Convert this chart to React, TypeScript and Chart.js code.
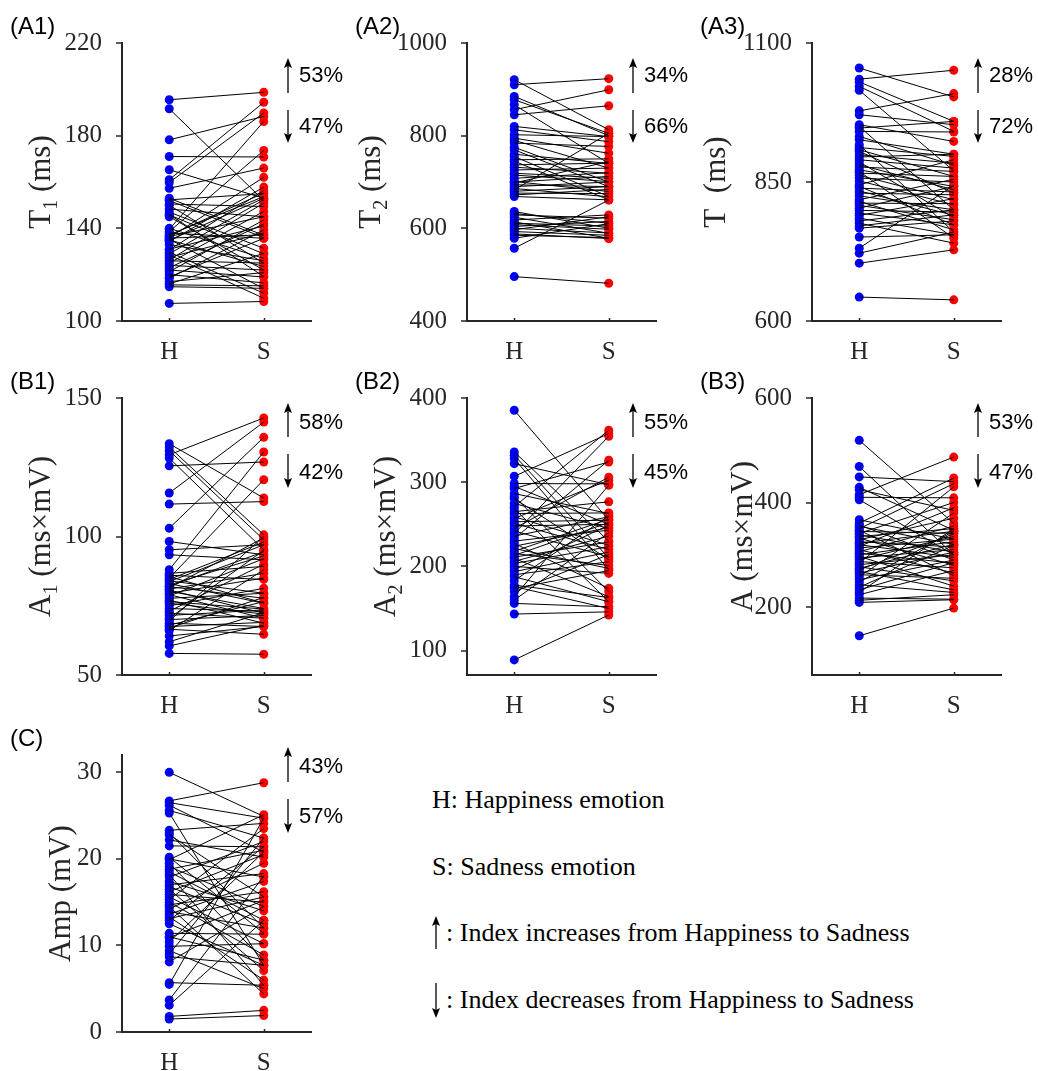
import React, { useEffect, useRef } from 'react';
import { Chart, registerables } from 'chart.js';

Chart.register(...registerables);

// ---------------- data ----------------
const categories = ['H', 'S'];

const t1H = [195.5, 191.6, 178.2, 171, 165.3, 161, 159.8, 157.3, 153, 152.3, 150, 148.3, 145.8, 145, 139.6, 138.6, 137.2, 136, 135.3, 134.3, 130.7, 129.7, 128.5, 126.4, 125, 123, 121.3, 118.4, 117, 115.6, 114.8, 107.6, 152, 150.5, 147, 146, 140, 138, 137, 136.5, 135.8, 135, 134.8, 133, 131, 129, 127.5, 126, 124, 122, 120, 119, 116];
const t1S = [198.7, 152, 188.3, 170.8, 153, 194.4, 189.8, 166, 137, 155, 125, 145, 129, 122, 186.1, 173.6, 153.7, 162, 114, 157.8, 156.3, 112, 109.8, 150.9, 147.3, 141.9, 143.6, 139.3, 120.9, 115.2, 114.1, 108.4, 136, 149.4, 131.4, 119.2, 127, 135.7, 155.2, 145, 137.2, 123.5, 153, 126, 141, 152.3, 138, 125, 122, 119, 116.5, 135.7, 129.2];

const t2H = [920.8, 910, 884.8, 877.6, 866.7, 856, 845, 820, 812.7, 802, 794.7, 790, 784, 775, 769.5, 760, 755, 748, 745, 737, 732, 726, 719, 715, 708, 701, 698, 694, 690, 686, 683, 680, 676, 672, 668.7, 636.3, 632, 629, 624, 618, 614, 611, 608, 604, 600, 597, 593, 585, 578.6, 588, 557, 495.8, 700];
const t2S = [812.7, 923, 800, 805, 740, 899, 864.6, 798, 787, 798, 762, 730, 776.7, 700, 690, 740, 668.7, 750, 661.5, 740.7, 719, 730, 708, 701, 720, 679.5, 744, 690, 700, 668, 805, 690, 675, 684, 661.5, 600.2, 611, 621.8, 589.4, 629, 578.6, 605, 598, 615, 590, 625, 585, 580, 610, 578, 661, 481.4, 712];

const tH = [1055, 1035, 1030, 1022, 1015, 978, 971, 953, 950, 947, 941, 932, 926, 917, 912, 908, 905, 899, 895, 890, 886, 881, 877, 872, 869, 866, 862, 857, 852, 845, 842, 839, 834, 830, 825, 818, 815, 812, 808, 803, 799, 794, 790, 785, 780, 776, 771, 767, 751, 731, 722, 704, 643];
const tS = [1003, 1051, 959, 941, 870, 1009, 953, 923, 800, 959, 940, 880, 900, 760, 896, 860, 830, 884, 900, 875, 786, 836, 869, 842, 749, 860, 818, 850, 809, 890, 773, 832, 790, 827, 800, 855, 764, 811, 782, 842, 796, 773, 820, 755, 800, 740, 791, 780, 755, 844, 760, 728, 638];

const a1H = [133.5, 132.3, 131, 129.5, 128.3, 125.5, 115.7, 111.7, 103, 98.2, 95.2, 93.4, 88, 86.7, 85, 84, 83.7, 83, 82.5, 81.9, 81.5, 81, 80.7, 80.2, 79.5, 79, 78.5, 77.7, 77, 75.9, 75, 74, 73, 72.3, 71.5, 70.5, 70, 69.5, 68.7, 68, 67.5, 67, 66.5, 66, 64.1, 62, 60.5, 57.8, 86, 85.5, 84.5, 82, 76.5];
const a1S = [113.9, 100.6, 98.8, 142.8, 95.2, 126.9, 141.3, 112.6, 135.8, 93.4, 97, 91.6, 130.5, 89.2, 120.5, 79.5, 97, 75.9, 93, 77.7, 99.5, 86.7, 72.3, 74, 85, 70.5, 92, 79.5, 68.7, 72, 81.3, 73, 90, 70.5, 73.5, 95, 71.5, 100, 67.5, 76.5, 69, 78, 64.7, 88, 67.5, 72.5, 68, 57.5, 84.5, 76, 98, 94.5, 73.8];

const a2H = [385.4, 336, 332, 328, 322, 307, 298.4, 295, 292.5, 286.5, 283, 280.6, 274.7, 271, 268.8, 265, 262.8, 259, 256.9, 253, 251, 248, 245, 242, 239, 236, 233, 230, 227.3, 224, 221.3, 218, 215.4, 213, 211, 209.5, 206, 203.5, 200, 196, 193.7, 190, 187.7, 183, 177.8, 173.9, 170, 164, 160, 156, 143.4, 88.9, 176];
const a2S = [255, 230, 210, 196, 297, 357.7, 298, 250, 324, 262.8, 170, 208, 245, 361.7, 158, 276.7, 263.5, 225, 302.4, 254.9, 220, 250, 306, 211.4, 354.5, 258.9, 326, 243, 173.9, 246, 197.6, 256, 201, 252, 229, 164, 236, 223.3, 191.7, 249, 217, 205.5, 158, 260, 163, 195, 214, 296.4, 240, 152, 146, 142.3, 150];

const aH = [519, 469, 449, 429, 424.5, 415, 410, 405.4, 367, 360.7, 357, 354.4, 350, 347, 344.8, 341, 338.4, 335, 332, 328.8, 325, 322, 319.3, 316, 313, 309.7, 306, 303, 300, 297, 294, 290.6, 287, 284, 281, 277, 274, 271.4, 268, 265, 261.9, 258, 252.3, 248, 242.7, 238, 233, 228, 223.6, 217.2, 213, 208.9, 145];
const aS = [360, 300, 440, 347, 385, 487, 409, 300, 330, 446.9, 290, 320, 436, 260, 341, 400, 305, 350, 280, 370, 315, 345, 295, 390, 330, 265, 355, 284, 325, 240, 310, 335, 275, 430, 300, 250, 320, 340, 233, 305, 255, 380, 290, 345, 228, 318, 285, 350, 270, 215, 223.6, 214, 198];

const ampH = [30, 26.7, 26.5, 26.2, 25.6, 25.3, 23.3, 23, 22.8, 22.2, 21.5, 20.2, 20, 19.9, 19.5, 19.1, 18.8, 18.5, 18.2, 17.9, 17.4, 17, 16.8, 16.5, 16.2, 15.9, 15.6, 15.3, 15, 14.7, 14.5, 14.2, 13.9, 13.6, 13.3, 13.1, 12.9, 12.5, 11.4, 10.9, 10.4, 9.9, 9.4, 9, 8.7, 8.1, 5.7, 5.5, 3.7, 3.1, 1.8, 1.5, 11];
const ampS = [24.9, 28.8, 24.7, 20.8, 22.4, 7.7, 24.1, 12, 15.6, 20.2, 21.4, 11.4, 17.9, 25.1, 8.3, 14.5, 21, 12.9, 5.4, 22, 14, 18.3, 12.5, 7.1, 20.5, 15, 10.2, 23.5, 8.9, 16.2, 4.4, 19.5, 12, 17.4, 6, 15.6, 21.4, 7.7, 11.3, 15.2, 20.8, 10.2, 5, 22.4, 7.7, 14.5, 5.4, 24.7, 18, 12.9, 2.5, 1.9, 8.3];

const t1Ticks = [100, 140, 180, 220];
const t2Ticks = [400, 600, 800, 1000];
const tTicks = [600, 850, 1100];
const a1Ticks = [50, 100, 150];
const a2Ticks = [100, 200, 300, 400];
const aTicks = [200, 400, 600];
const ampTicks = [0, 10, 20, 30];

const upPct = ['53%', '34%', '28%', '58%', '55%', '53%', '43%'];
const downPct = ['47%', '66%', '72%', '42%', '45%', '47%', '57%'];

// ---------------- styling ----------------
const AX = '#262626';
const SERIF = '"Liberation Serif", "Times New Roman", serif';
const SANS = '"Liberation Sans", Arial, sans-serif';
const COL_LEFT = [122, 467, 812];
const ROW_TOP = [43, 398, 755];
const ROW_H = [278, 277, 277];
const PAD_TOP = 43;
const AXIS_W = 122;
const PLOT_W = 189;
const CANVAS_W = 345;
const XAXIS_H = 44;
const ROW_ANN = [
  { up: [15, 50], upT: 33, dn: [67, 100], dnT: 84 },
  { up: [5, 39], upT: 25, dn: [56, 90], dnT: 75 },
  { up: [-8, 27], upT: 12, dn: [44, 78], dnT: 62 },
];

type Part = [string, boolean];
interface PanelCfg {
  label: string; row: number; col: number;
  h: number[]; s: number[]; min: number; max: number; ticks: number[];
  title: Part[]; titleOff: number; up: string; down: string;
}

const panels: PanelCfg[] = [
  { label: '(A1)', row: 0, col: 0, h: t1H, s: t1S, min: 100, max: 220, ticks: t1Ticks, title: [['T', false], ['1', true], [' (ms)', false]], titleOff: -72, up: upPct[0], down: downPct[0] },
  { label: '(A2)', row: 0, col: 1, h: t2H, s: t2S, min: 400, max: 1000, ticks: t2Ticks, title: [['T', false], ['2', true], [' (ms)', false]], titleOff: -87, up: upPct[1], down: downPct[1] },
  { label: '(A3)', row: 0, col: 2, h: tH, s: tS, min: 600, max: 1100, ticks: tTicks, title: [['T  (ms)', false]], titleOff: -87, up: upPct[2], down: downPct[2] },
  { label: '(B1)', row: 1, col: 0, h: a1H, s: a1S, min: 50, max: 150, ticks: a1Ticks, title: [['A', false], ['1', true], [' (ms\u00d7mV)', false]], titleOff: -72, up: upPct[3], down: downPct[3] },
  { label: '(B2)', row: 1, col: 1, h: a2H, s: a2S, min: 71, max: 400, ticks: a2Ticks, title: [['A', false], ['2', true], [' (ms\u00d7mV)', false]], titleOff: -72, up: upPct[4], down: downPct[4] },
  { label: '(B3)', row: 1, col: 2, h: aH, s: aS, min: 70, max: 600, ticks: aTicks, title: [['A (ms\u00d7mV)', false]], titleOff: -60, up: upPct[5], down: downPct[5] },
  { label: '(C)', row: 2, col: 0, h: ampH, s: ampS, min: 0, max: 32, ticks: ampTicks, title: [['Amp (mV)', false]], titleOff: -52, up: upPct[6], down: downPct[6] },
];

function drawArrow(ctx: CanvasRenderingContext2D, x: number, y1: number, y2: number, up: boolean) {
  ctx.beginPath();
  ctx.lineWidth = 1.3;
  ctx.strokeStyle = '#000';
  if (up) { ctx.moveTo(x, y1 + 7); ctx.lineTo(x, y2); } else { ctx.moveTo(x, y1); ctx.lineTo(x, y2 - 7); }
  ctx.stroke();
  ctx.beginPath();
  ctx.fillStyle = '#000';
  if (up) { ctx.moveTo(x, y1); ctx.lineTo(x - 4, y1 + 10); ctx.lineTo(x, y1 + 8); ctx.lineTo(x + 4, y1 + 10); }
  else { ctx.moveTo(x, y2); ctx.lineTo(x - 4, y2 - 10); ctx.lineTo(x, y2 - 8); ctx.lineTo(x + 4, y2 - 10); }
  ctx.closePath();
  ctx.fill();
}

const decorPlugin = {
  id: 'decor',
  afterDraw(chart: any, _args: any, opts: any) {
    const ctx: CanvasRenderingContext2D = chart.ctx;
    const { left, top, bottom } = chart.chartArea;
    const ys = chart.scales.y;
    const xs = chart.scales.x;
    ctx.save();
    ctx.strokeStyle = AX;
    ctx.lineWidth = 1.5;
    ys.ticks.forEach((t: any) => {
      const py = Math.round(ys.getPixelForValue(t.value));
      ctx.beginPath(); ctx.moveTo(left - 6, py); ctx.lineTo(left, py); ctx.stroke();
    });
    xs.ticks.forEach((t: any) => {
      const px = Math.round(xs.getPixelForValue(t.value)) + 0.5;
      ctx.beginPath(); ctx.moveTo(px, bottom); ctx.lineTo(px, bottom - 3); ctx.stroke();
    });
    // y title with subscripts (baseline positioned)
    const parts: Part[] = opts.title;
    const main = `31px ${SERIF}`;
    const sub = `20px ${SERIF}`;
    let total = 0;
    const widths = parts.map(([txt, isSub]) => { ctx.font = isSub ? sub : main; const w = ctx.measureText(txt).width; total += w; return w; });
    ctx.translate(opts.titleX, (top + bottom) / 2);
    ctx.rotate(-Math.PI / 2);
    ctx.fillStyle = AX;
    ctx.textBaseline = 'alphabetic';
    ctx.textAlign = 'left';
    let x = -total / 2;
    parts.forEach(([txt, isSub], i) => {
      ctx.font = isSub ? sub : main;
      ctx.fillText(txt, x, isSub ? 7 : 0);
      x += widths[i];
    });
    ctx.restore();
    // arrows and percentages
    ctx.save();
    const ann = opts.ann;
    const ax = left + 166;
    drawArrow(ctx, ax, top + ann.up[0], top + ann.up[1], true);
    drawArrow(ctx, ax, top + ann.dn[0], top + ann.dn[1], false);
    ctx.fillStyle = '#000';
    ctx.font = `22px ${SANS}`;
    ctx.textAlign = 'left';
    ctx.textBaseline = 'middle';
    ctx.fillText(opts.up, left + 177, top + ann.upT);
    ctx.fillText(opts.down, left + 177, top + ann.dnT);
    ctx.restore();
  },
};

function Panel({ cfg }: { cfg: PanelCfg }) {
  const ref = useRef<HTMLCanvasElement>(null);
  const plotH = ROW_H[cfg.row];
  const cw = CANVAS_W;
  const chH = PAD_TOP + plotH + XAXIS_H;
  const cl = COL_LEFT[cfg.col] - AXIS_W;
  const ct = ROW_TOP[cfg.row] - PAD_TOP;

  useEffect(() => {
    const lineSets = cfg.h.map((hv, i) => ({
      data: [{ x: 0, y: hv }, { x: 1, y: cfg.s[i] }],
      showLine: true,
      borderColor: '#000',
      borderWidth: 1,
      pointRadius: 0,
      fill: false,
      order: 0,
    }));
    const chart = new Chart(ref.current as HTMLCanvasElement, {
      type: 'scatter',
      data: {
        datasets: [
          ...lineSets,
          { data: cfg.h.map((v) => ({ x: 0, y: v })), pointRadius: 4.5, pointBorderWidth: 0, backgroundColor: '#0000ff', borderColor: '#0000ff', order: 1 },
          { data: cfg.s.map((v) => ({ x: 1, y: v })), pointRadius: 4.5, pointBorderWidth: 0, backgroundColor: '#ff0000', borderColor: '#ff0000', order: 1 },
        ] as any,
      },
      options: {
        animation: false,
        responsive: false,
        devicePixelRatio: 1,
        events: [],
        layout: { padding: { left: 0, right: cw - AXIS_W - PLOT_W, top: PAD_TOP, bottom: 0 } },
        plugins: {
          legend: { display: false },
          tooltip: { enabled: false },
          decor: { title: cfg.title, titleX: AXIS_W + cfg.titleOff, ann: ROW_ANN[cfg.row], up: cfg.up, down: cfg.down },
        } as any,
        scales: {
          x: {
            type: 'linear', min: -0.5, max: 1.5,
            afterBuildTicks: (s: any) => { s.ticks = [{ value: 0 }, { value: 1 }]; },
            afterFit: (s: any) => { s.height = XAXIS_H; },
            grid: { display: false },
            border: { display: true, color: AX, width: 2 },
            ticks: { callback: (v: any) => categories[Math.round(Number(v))], font: { family: SERIF, size: 25 }, color: AX, padding: 8, autoSkip: false, maxRotation: 0 },
          },
          y: {
            type: 'linear', min: cfg.min, max: cfg.max,
            afterBuildTicks: (s: any) => { s.ticks = cfg.ticks.map((v) => ({ value: v })); },
            afterFit: (s: any) => { s.width = AXIS_W; },
            grid: { display: false },
            border: { display: true, color: AX, width: 2 },
            ticks: { callback: (v: any) => String(v), font: { family: SERIF, size: 25 }, color: AX, padding: 12, autoSkip: false },
          },
        } as any,
      },
      plugins: [decorPlugin as any],
    });
    return () => chart.destroy();
  }, []);

  return (
    <>
      <canvas ref={ref} width={cw} height={chH} style={{ position: 'absolute', left: cl, top: ct, width: cw, height: chH }} />
      <div style={{ position: 'absolute', left: cl + 10, top: ROW_TOP[cfg.row] - 30, font: `24px ${SANS}`, lineHeight: '26px', color: '#000' }}>{cfg.label}</div>
    </>
  );
}

function UpArrow({ left, top }: { left: number; top: number }) {
  return (
    <svg style={{ position: 'absolute', left, top }} width={10} height={33}>
      <line x1={5} y1={7} x2={5} y2={33} stroke="#000" strokeWidth={1.3} />
      <polygon points="5,0 1,10 5,8 9,10" fill="#000" />
    </svg>
  );
}
function DownArrow({ left, top }: { left: number; top: number }) {
  return (
    <svg style={{ position: 'absolute', left, top }} width={10} height={35}>
      <line x1={5} y1={0} x2={5} y2={28} stroke="#000" strokeWidth={1.3} />
      <polygon points="5,35 1,25 5,27 9,25" fill="#000" />
    </svg>
  );
}

const legendStyle: React.CSSProperties = { position: 'absolute', font: `26px ${SERIF}`, lineHeight: '30px', color: '#000', whiteSpace: 'nowrap' };

export default function App() {
  return (
    <div style={{ position: 'absolute', left: 0, top: 0, width: 1038, height: 1071, overflow: 'hidden', background: '#fff' }}>
      {panels.map((p) => <Panel key={p.label} cfg={p} />)}
      <div style={{ ...legendStyle, left: 432, top: 785 }}>H: Happiness emotion</div>
      <div style={{ ...legendStyle, left: 432, top: 852 }}>S: Sadness emotion</div>
      <UpArrow left={431} top={916} />
      <div style={{ ...legendStyle, left: 446, top: 918 }}>: Index increases from Happiness to Sadness</div>
      <DownArrow left={431} top={983} />
      <div style={{ ...legendStyle, left: 446, top: 985 }}>: Index decreases from Happiness to Sadness</div>
    </div>
  );
}
